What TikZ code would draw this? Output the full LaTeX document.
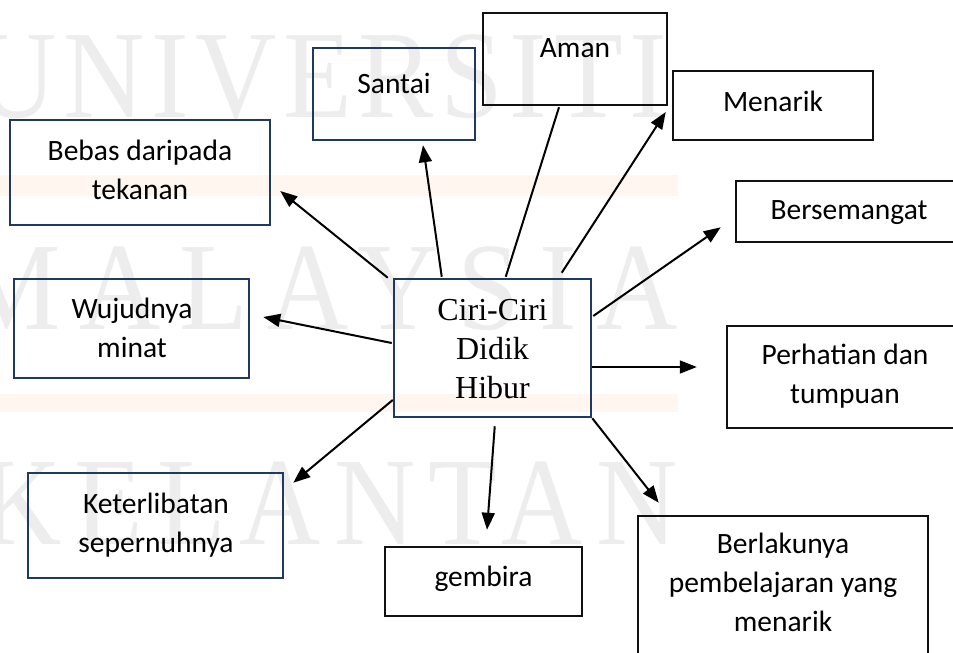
\documentclass[tikz,border=0pt]{standalone}
\usepackage{fontspec}
\usepackage{graphicx}
\usetikzlibrary{arrows.meta,calc}
\newfontfamily\carlito{Carlito}
\newfontfamily\tnr{Liberation Serif}
\definecolor{boxblue}{HTML}{1F3864}
\definecolor{boxblack}{HTML}{111111}
\definecolor{wmgray}{HTML}{EDEDED}
\definecolor{wmorange}{HTML}{FEF6EF}
\newcommand{\tstr}{\rule{0pt}{25pt}}
\tikzset{
  bluebox/.style={draw=boxblue, line width=2.5pt, inner sep=0pt},
  blackbox/.style={draw=boxblack, line width=2.5pt, inner sep=0pt},
  lbl/.style={anchor=north, inner sep=0pt, align=center, font=\carlito\fontsize{29.5}{39}\selectfont},
  clbl/.style={anchor=north, inner sep=0pt, align=center, font=\tnr\fontsize{32}{39}\selectfont},
  wm/.style={anchor=base west, inner sep=0pt, text=wmgray, font=\tnr\fontsize{125}{125}\selectfont},
  arr/.style={draw=black, line width=2pt, -{Triangle[length=17pt,width=13pt]}},
  plain/.style={draw=black, line width=2pt}
}
\begin{document}
\begin{tikzpicture}[x=1pt,y=-1pt]
\useasboundingbox (0,0) rectangle (953,653);
\fill[white] (0,0) rectangle (953,653);
% watermark
\fill[wmorange] (0,175) rectangle (678,196);
\fill[wmorange] (0,394) rectangle (678,412);
\node[wm] (wm1) at (-25,117) {\addfontfeatures{LetterSpace=6}\scalebox{0.9}[1]{UNIVERSITI}};
\node[wm] (wm2) at (-40,329) {\addfontfeatures{LetterSpace=17}\scalebox{0.9}[1]{MALAYSIA}};
\node[wm] (wm3) at (-20,544) {\addfontfeatures{LetterSpace=12}\scalebox{0.9}[1]{KELANTAN}};
% boxes
\node[bluebox, minimum width=162pt, minimum height=92pt] (santai) at (394,94) {};
\node[blackbox, minimum width=184pt, minimum height=92pt] (aman) at (575,59) {};
\node[blackbox, minimum width=200pt, minimum height=69pt] (menarik) at (773,105.5) {};
\node[bluebox, minimum width=260pt, minimum height=105pt] (bebas) at (140,172.5) {};
\node[blackbox, minimum width=226pt, minimum height=61pt] (bersemangat) at (849,211.5) {};
\node[bluebox, minimum width=235pt, minimum height=99pt] (wujud) at (131.5,328.5) {};
\node[bluebox, minimum width=197pt, minimum height=138pt] (c) at (492.5,348) {};
\node[blackbox, minimum width=236pt, minimum height=102pt] (perhatian) at (845,377) {};
\node[bluebox, minimum width=255pt, minimum height=105pt] (keterlibatan) at (155.5,525.5) {};
\node[blackbox, minimum width=197pt, minimum height=69pt] (gembira) at (483.5,581.5) {};
\node[blackbox, minimum width=290pt, minimum height=150pt] (berlakunya) at (783,591) {};
% texts
\node[lbl] (santaiT) at (394,68) {\tstr Santai};
\node[lbl] (amanT) at (575,32) {\tstr Aman};
\node[lbl] (menarikT) at (773,86) {\tstr Menarik};
\node[lbl] (bebasT) at (140,135) {\tstr Bebas daripada\\tekanan};
\node[lbl] (bersemangatT) at (849,194) {\tstr Bersemangat};
\node[lbl] (wujudT) at (132,293) {\tstr Wujudnya\\minat};
\node[clbl] (cT) at (492.5,295) {\tstr Ciri-Ciri\\Didik\\Hibur};
\node[lbl] (perhatianT) at (845,339) {\tstr Perhatian dan\\tumpuan};
\node[lbl] (keterlibatanT) at (156,488) {\tstr Keterlibatan\\sepernuhnya};
\node[lbl] (gembiraT) at (483.5,561) {\tstr gembira};
\node[lbl] (berlakunyaT) at (783,528) {\tstr Berlakunya\\pembelajaran yang\\menarik};
% connectors
\draw[arr] ($(c.north west)+(-5,0)$) -- ($(bebas.east)+(9,18.5)$);
\draw[arr] ($(c.north west)+(49,-1)$) -- ($(santai.south)+(29,4)$);
\draw[plain] ($(c.north west)+(113,-1)$) -- ($(aman.south)+(-16,1)$);
\draw[arr] ($(c.north west)+(169,-5)$) -- ($(menarik.west)+(-6,6.5)$);
\draw[arr] ($(c.east)+(1,-32)$) -- ($(bersemangat.south west)+(-14,-16)$);
\draw[arr] ($(c.east)+(0,19)$) -- ($(perhatian.west)+(-29,-10)$);
\draw[arr] (c.south east) -- ($(berlakunya.north west)+(22,-12)$);
\draw[arr] ($(c.south west)+(102,8)$) -- ($(gembira.north)+(3.5,-16)$);
\draw[arr] ($(c.west)+(0,52)$) -- ($(keterlibatan.north east)+(9,11)$);
\draw[arr] ($(c.west)+(-1,-5)$) -- ($(wujud.east)+(13,-11.5)$);
\end{tikzpicture}
\end{document}
